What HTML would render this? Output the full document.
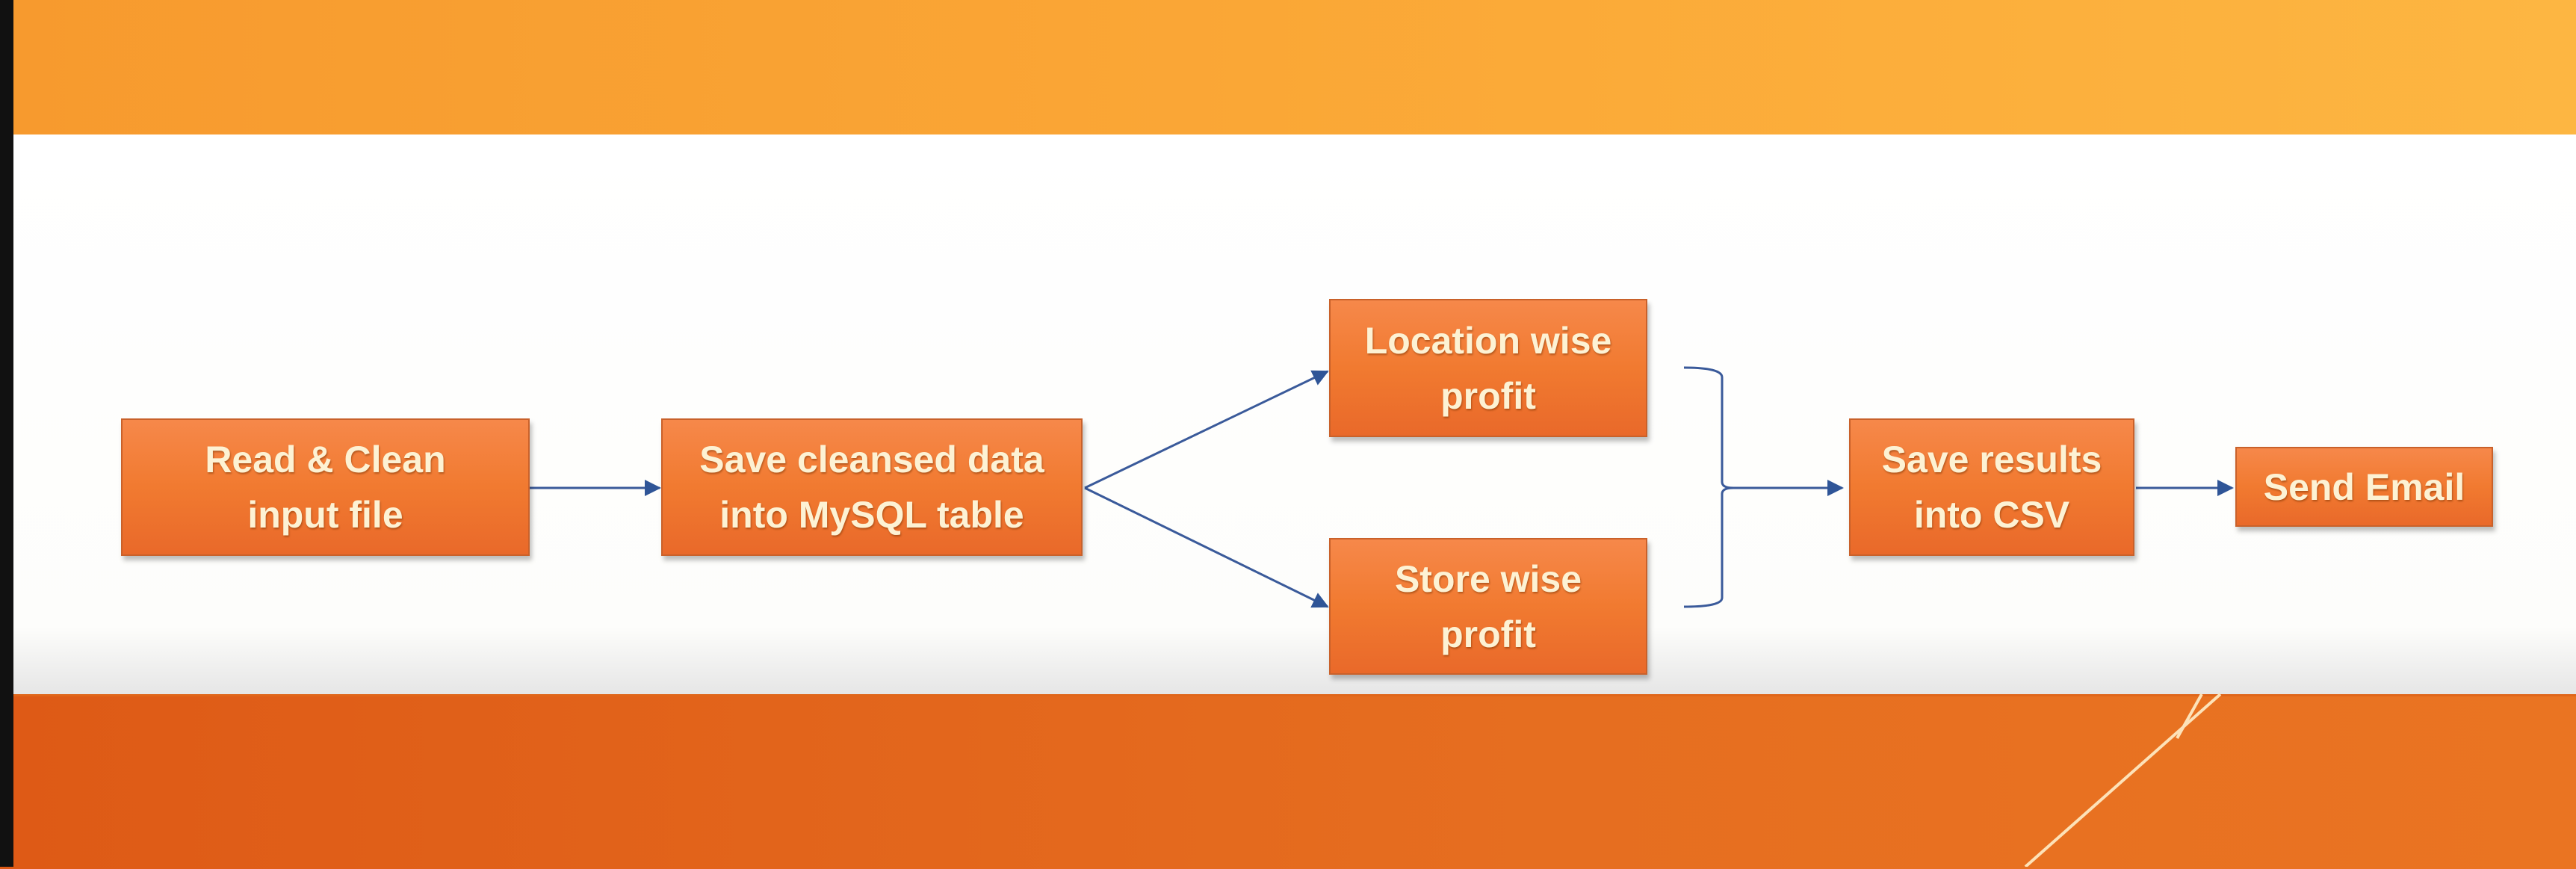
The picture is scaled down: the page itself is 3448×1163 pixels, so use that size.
<!DOCTYPE html>
<html><head><meta charset="utf-8"><style>
body{margin:0;width:3448px;height:1160px;overflow:hidden;position:relative;background:#fff;font-family:"Liberation Sans",sans-serif}
.top{position:absolute;left:0;top:0;width:3448px;height:180px;background:linear-gradient(90deg,#f79a2e,#fbaa38 60%,#fdb642);border-bottom:2px solid #e88a20}
.white{position:absolute;left:0;top:180px;width:3448px;height:749px;background:linear-gradient(180deg,#fff 0,#fdfdfb 88%,#e6e6e6 100%)}
.bot{position:absolute;left:0;top:929px;width:3448px;height:231px;background:linear-gradient(90deg,#de5a16,#e66e20 60%,#ea7422);border-top:3px solid #e0661a}
.lb{position:absolute;left:0;top:0;width:18px;height:1160px;background:#111}
.box{position:absolute;box-sizing:border-box;background:linear-gradient(180deg,#f6884a,#f17a30 50%,#e9692a);border:2px solid #c9612a;box-shadow:3px 6px 6px rgba(0,0,0,.25);color:#fdf2d4;font-weight:bold;font-size:50px;line-height:74px;text-align:center;display:flex;align-items:center;justify-content:center;text-shadow:1px 2px 2px rgba(120,50,0,.5)}
</style></head><body>
<div class="top"></div><div class="white"></div><div class="bot"></div><div class="lb"></div>
<svg width="3448" height="1160" style="position:absolute;left:0;top:0">
<defs><marker id="a" markerWidth="10" markerHeight="10" refX="9" refY="5" orient="auto" markerUnits="userSpaceOnUse" viewBox="0 0 10 10"><path d="M0,0L10,5L0,10z" fill="#2f5597"/></marker>
<marker id="b" markerWidth="22" markerHeight="22" refX="20" refY="11" orient="auto" markerUnits="userSpaceOnUse"><path d="M0,0L22,11L0,22z" fill="#2f5597"/></marker></defs>
<g stroke="#3a5a9a" stroke-width="3" fill="none">
<line x1="709" y1="653" x2="883" y2="653" marker-end="url(#b)"/>
<line x1="1452" y1="653" x2="1777" y2="497" marker-end="url(#b)"/>
<line x1="1452" y1="653" x2="1777" y2="812" marker-end="url(#b)"/>
<path d="M2254,492 Q2305,492 2305,505 L2305,645 Q2305,653 2320,653 Q2305,653 2305,661 L2305,800 Q2305,812 2254,812"/>
<line x1="2320" y1="653" x2="2466" y2="653" marker-end="url(#b)"/>
<line x1="2859" y1="653" x2="2988" y2="653" marker-end="url(#b)"/>
</g>
<g stroke="#fde2b8" stroke-width="4">
<line x1="2972" y1="929" x2="2711" y2="1160"/>
<line x1="2947" y1="929" x2="2914" y2="988"/>
</g>
</svg>
<div class="box" style="left:162px;top:560px;width:547px;height:184px">Read &amp; Clean<br>input file</div>
<div class="box" style="left:885px;top:560px;width:564px;height:184px">Save cleansed data<br>into MySQL table</div>
<div class="box" style="left:1779px;top:400px;width:426px;height:185px">Location wise<br>profit</div>
<div class="box" style="left:1779px;top:720px;width:426px;height:183px">Store wise<br>profit</div>
<div class="box" style="left:2475px;top:560px;width:382px;height:184px">Save results<br>into CSV</div>
<div class="box" style="left:2992px;top:598px;width:345px;height:107px">Send Email</div>
</body></html>
